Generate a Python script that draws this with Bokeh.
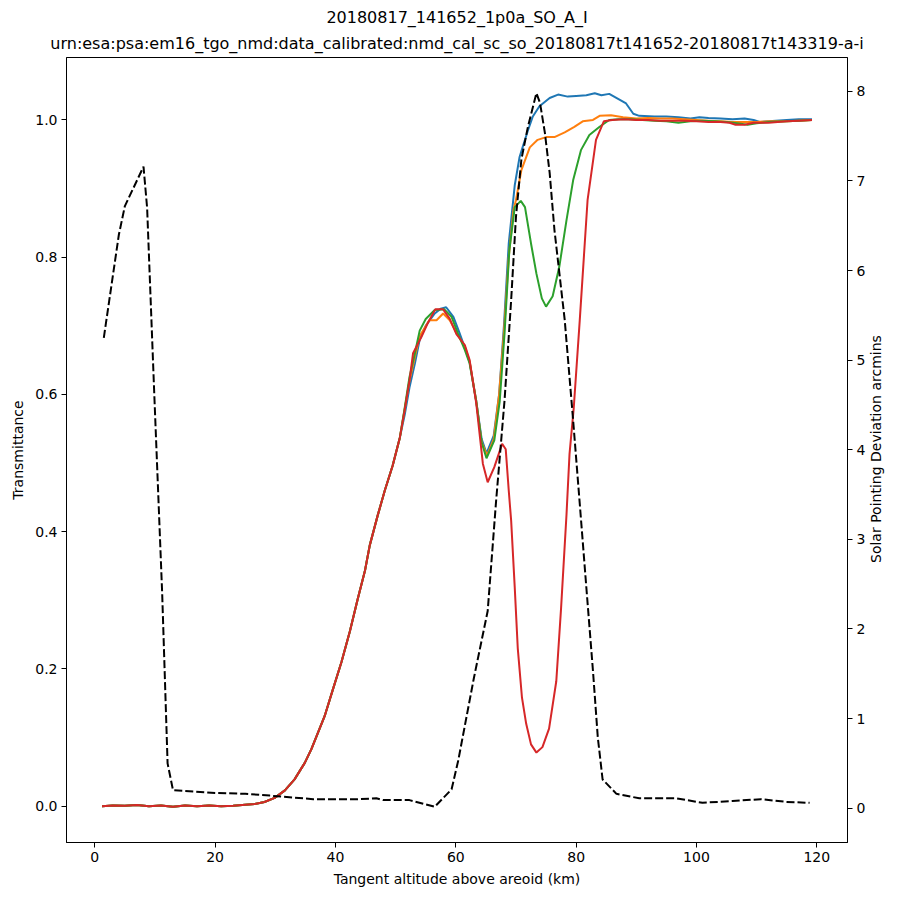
import math
from bokeh.plotting import figure
from bokeh.models import Range1d, LinearAxis, FixedTicker, PrintfTickFormatter, Title
from bokeh.embed import file_html
from bokeh.resources import INLINE

title_line1 = "20180817_141652_1p0a_SO_A_I"
title_line2 = "urn:esa:psa:em16_tgo_nmd:data_calibrated:nmd_cal_sc_so_20180817t141652-20180817t143319-a-i"
x_label = "Tangent altitude above areoid (km)"
y_label = "Transmittance"
y2_label = "Solar Pointing Deviation arcmins"

x_ticks = [0, 20, 40, 60, 80, 100, 120]
y_ticks = [0.0, 0.2, 0.4, 0.6, 0.8, 1.0]
y2_ticks = [0, 1, 2, 3, 4, 5, 6, 7, 8]

# Part shared by all four transmittance curves (lower atmosphere)
alt_common = [1.2, 3, 5, 7, 9, 11, 13, 15, 17, 19, 21, 23, 25, 26.6, 28.2, 29.9, 31.6, 33.2,
              34.9, 36.0, 37.0, 38.2, 39.5, 41.0, 42.4, 43.7, 44.9, 45.7, 47.0, 48.2, 49.5, 50.7]
t_common = [0.0, 0.001, 0.0005, 0.0015, 0.0, 0.001, -0.001, 0.001, 0.0, 0.001, 0.0, 0.0005, 0.002,
            0.003, 0.006, 0.012, 0.023, 0.039, 0.063, 0.083, 0.105, 0.131, 0.168, 0.21, 0.255,
            0.302, 0.343, 0.38, 0.423, 0.46, 0.496, 0.537]

alt_blue = [51.5, 52.3, 53.2, 54.0, 55.0, 56.5, 57.5, 58.4, 59.6, 60.6, 61.5, 62.3, 63.4, 64.3,
            65.1, 66.3, 67.2, 68.0, 68.8, 69.8, 70.6, 71.1, 72.0, 72.8, 73.9, 75.6, 77.0, 78.6,
            80.0, 81.7, 83.1, 84.2, 85.5, 86.9, 88.3, 89.5, 90.5, 93.0, 95.0, 97.0, 99.0, 100.5,
            102.0, 104.0, 106.0, 108.0, 109.5, 110.5, 112.0, 115.0, 117.0, 119.2]
t_blue = [0.57, 0.61, 0.645, 0.68, 0.70, 0.718, 0.725, 0.727, 0.713, 0.69, 0.668, 0.647, 0.59,
          0.535, 0.514, 0.54, 0.60, 0.70, 0.82, 0.905, 0.946, 0.96, 0.985, 1.005, 1.02, 1.032,
          1.037, 1.034, 1.035, 1.036, 1.039, 1.036, 1.038, 1.031, 1.024, 1.009, 1.006, 1.005,
          1.005, 1.004, 1.002, 1.004, 1.003, 1.002, 1.001, 1.002, 1.0, 0.997, 0.998, 1.0,
          1.001, 1.001]

alt_orange = [51.5, 52.3, 53.2, 54.0, 55.6, 56.8, 57.9, 59.0, 60.2, 61.5, 62.3, 63.4, 64.3, 65.2,
              66.3, 67.2, 68.0, 68.8, 69.6, 70.0, 70.9, 72.3, 73.6, 75.0, 76.4, 78.1, 79.7, 81.1,
              82.8, 83.9, 85.8, 87.8, 90.0, 92.0, 94.0, 96.0, 98.0, 100.0, 102.0, 104.0, 106.0,
              108.0, 110.0, 112.0, 115.0, 117.0, 119.2]
t_orange = [0.578, 0.62, 0.655, 0.685, 0.708, 0.708, 0.718, 0.708, 0.688, 0.67, 0.648, 0.59,
            0.53, 0.511, 0.535, 0.60, 0.69, 0.80, 0.87, 0.883, 0.927, 0.96, 0.971, 0.975, 0.975,
            0.982, 0.99, 0.998, 1.0, 1.006, 1.007, 1.004, 1.002, 1.003, 1.002, 1.002, 1.001,
            1.0, 0.999, 0.998, 0.997, 0.997, 0.997, 0.998, 0.998, 0.999, 1.0]

alt_green = [51.5, 52.3, 53.2, 54.0, 55.0, 56.5, 58.1, 59.3, 60.4, 61.5, 62.3, 63.4, 64.3, 65.1,
             66.4, 67.3, 68.1, 68.9, 69.8, 70.8, 71.5, 72.5, 73.4, 74.3, 75.0, 76.1, 77.2, 78.4,
             79.5, 80.8, 82.2, 83.9, 85.5, 87.0, 89.0, 91.0, 93.0, 95.0, 97.0, 99.0, 101.0,
             103.0, 105.0, 107.0, 108.5, 110.0, 112.0, 115.0, 117.0, 119.2]
t_green = [0.58, 0.625, 0.66, 0.693, 0.71, 0.723, 0.724, 0.713, 0.688, 0.665, 0.645, 0.59, 0.53,
           0.507, 0.533, 0.59, 0.689, 0.81, 0.873, 0.882, 0.873, 0.82, 0.776, 0.74, 0.728, 0.743,
           0.786, 0.854, 0.912, 0.956, 0.978, 0.99, 1.0, 1.001, 1.001, 1.0, 0.999, 0.998, 0.996,
           0.998, 0.999, 0.998, 0.997, 0.995, 0.993, 0.995, 0.997, 0.998, 0.999, 1.0]

alt_red = [51.5, 52.3, 52.9, 54.3, 55.4, 56.6, 57.9, 59.0, 60.1, 61.5, 62.3, 63.4, 64.5, 65.3,
           66.4, 67.7, 68.3, 68.8, 69.2, 69.8, 70.3, 71.0, 71.7, 72.5, 73.4, 74.4, 75.5, 76.7,
           77.5, 78.4, 78.9, 79.6, 80.6, 81.9, 83.3, 84.6, 86.0, 88.0, 90.0, 92.0, 94.0, 96.0,
           98.0, 100.0, 102.0, 104.0, 105.5, 106.5, 108.0, 109.5, 112.0, 115.0, 117.0, 119.2]
t_red = [0.577, 0.62, 0.66, 0.684, 0.705, 0.724, 0.724, 0.71, 0.688, 0.672, 0.65, 0.587, 0.499,
         0.472, 0.494, 0.528, 0.52, 0.46, 0.416, 0.318, 0.23, 0.158, 0.12, 0.09, 0.078, 0.086,
         0.113, 0.182, 0.289, 0.425, 0.513, 0.58, 0.708, 0.883, 0.971, 0.998, 1.0, 1.001, 1.0,
         1.0, 0.999, 0.999, 0.999, 0.998, 0.997, 0.997, 0.996, 0.993, 0.993, 0.996, 0.996,
         0.998, 0.999, 1.0]

# Solar pointing deviation (right axis)
alt_dev = [1.5, 4.0, 5.0, 8.1, 8.7, 9.9, 11.2, 12.1, 13.0, 20.0, 25.0, 29.1, 36.3, 43.5, 46.8,
           47.9, 52.3, 56.5, 59.3, 60.4, 63.0, 65.3, 66.7, 68.1, 69.2, 70.0, 70.9, 72.0, 73.4,
           74.0, 74.8, 75.6, 76.4, 78.1, 79.5, 80.6, 81.7, 82.8, 83.6, 84.4, 86.7, 90.5, 96.6,
           101.0, 106.0, 110.7, 114.9, 118.8]
dev = [5.25, 6.4, 6.72, 7.16, 6.7, 4.6, 2.4, 0.5, 0.2, 0.17, 0.16, 0.14, 0.10, 0.10, 0.11, 0.09,
       0.09, 0.015, 0.21, 0.53, 1.45, 2.2, 3.43, 4.55, 5.67, 6.6, 7.24, 7.61, 7.98, 7.87, 7.54,
       7.09, 6.45, 5.45, 4.33, 3.4, 2.46, 1.53, 0.79, 0.32, 0.16, 0.11, 0.11, 0.06, 0.08, 0.10,
       0.07, 0.06]

curves = [
    (alt_common + alt_blue, t_common + t_blue, "#1f77b4"),
    (alt_common + alt_orange, t_common + t_orange, "#ff7f0e"),
    (alt_common + alt_green, t_common + t_green, "#2ca02c"),
    (alt_common + alt_red, t_common + t_red, "#d62728"),
]

def padded(vals, frac=0.05):
    lo, hi = min(vals), max(vals)
    d = (hi - lo) * frac
    return lo - d, hi + d

all_x = [x for c in curves for x in c[0]] + alt_dev
all_t = [t for c in curves for t in c[1]]
xlo, xhi = padded(all_x)
ylo, yhi = padded(all_t)
y2lo, y2hi = padded(dev)

FONT = "DejaVu Sans"
FW, FH = 781, 785

p = figure(frame_width=FW, frame_height=FH, output_backend="svg", toolbar_location=None,
           x_range=Range1d(xlo, xhi), y_range=Range1d(ylo, yhi),
           min_border_left=66, min_border_right=53, min_border_top=57, min_border_bottom=58,
           background_fill_color="white", border_fill_color="white")
p.grid.visible = False
p.outline_line_color = "black"
p.outline_line_width = 1
p.outline_line_alpha = 1.0

# outer title line
p.title.text = title_line1
p.title.align = "center"
p.title.text_font = FONT
p.title.text_font_size = "16px"
p.title.text_font_style = "normal"
p.title.text_color = "black"
p.title.standoff = 0
# inner title line (closest to the frame)
t2 = Title(text=title_line2, align="center", text_font=FONT, text_font_size="16px",
           text_font_style="normal", text_color="black", standoff=10)
p.add_layout(t2, "above")

p.extra_y_ranges = {"dev": Range1d(y2lo, y2hi)}
ax2 = LinearAxis(y_range_name="dev")
p.add_layout(ax2, "right")

p.xaxis.ticker = FixedTicker(ticks=x_ticks)
p.yaxis[0].ticker = FixedTicker(ticks=y_ticks)
p.yaxis[0].formatter = PrintfTickFormatter(format="%.1f")
ax2.ticker = FixedTicker(ticks=y2_ticks)

p.xaxis.axis_label = x_label
p.yaxis[0].axis_label = y_label

for ax in [p.xaxis[0], p.yaxis[0], ax2]:
    ax.axis_label_text_font = FONT
    ax.axis_label_text_font_size = "14px"
    ax.axis_label_text_font_style = "normal"
    ax.axis_label_text_color = "black"
    ax.axis_label_standoff = 6
    ax.major_label_text_font = FONT
    ax.major_label_text_font_size = "14px"
    ax.major_label_text_color = "black"
    ax.major_label_standoff = 4
    ax.major_tick_in = 0
    ax.major_tick_out = 5
    ax.major_tick_line_color = "black"
    ax.minor_tick_line_color = None
    ax.axis_line_color = "black"

# Right-hand axis title, reading bottom-to-top as in the reference.  It is drawn as the
# single (rotated, start-anchored) label of a mark-less outer axis, anchored half a label
# length below the middle of the frame so that the text ends up centred.
px_per_unit = FH / (y2hi - y2lo)
label_len_px = 226
anchor = round((y2lo + y2hi) / 2 - (label_len_px / 2) / px_per_unit, 4)
ax3 = LinearAxis(y_range_name="dev", ticker=FixedTicker(ticks=[anchor]),
                 major_label_overrides={anchor: y2_label},
                 major_label_orientation=math.pi / 2,
                 axis_line_color=None, major_tick_line_color=None, minor_tick_line_color=None,
                 major_tick_in=0, major_tick_out=0, major_label_standoff=8,
                 major_label_text_font=FONT, major_label_text_font_size="14px",
                 major_label_text_color="black")
p.add_layout(ax3, "right")

for xs, ts, col in curves:
    p.line(xs, ts, line_color=col, line_width=2)

p.line(alt_dev, dev, line_color="black", line_width=2, line_dash="8 3", y_range_name="dev")

open("out.html", "w").write(file_html(p, INLINE))
